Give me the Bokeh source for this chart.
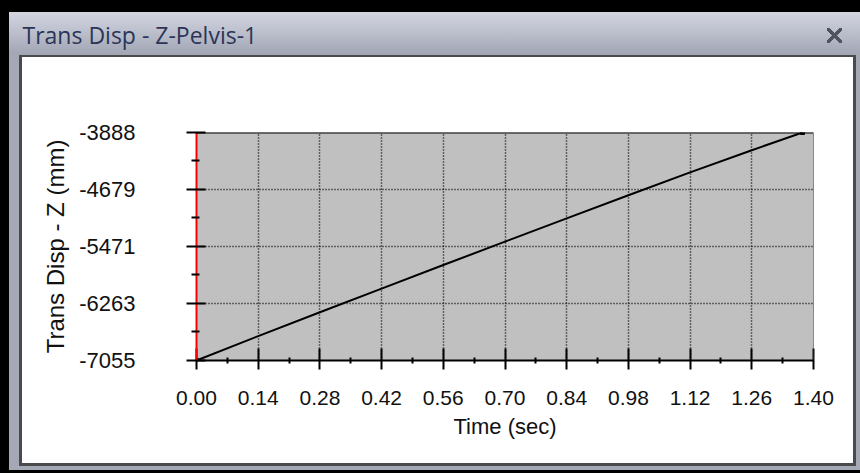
from bokeh.plotting import figure
from bokeh.models import FixedTicker, Span, Range1d, NumeralTickFormatter, Title
from bokeh.embed import file_html
from bokeh.resources import INLINE

# ---------------- data ----------------
time_s = [0.00, 0.14, 0.28, 0.42, 0.56, 0.70, 0.84, 0.98, 1.12, 1.26, 1.375]
disp_mm = [-7055, -6716, -6385, -6057, -5729, -5404, -5080, -4759, -4442, -4134, -3888]

x_ticks = [0.00, 0.14, 0.28, 0.42, 0.56, 0.70, 0.84, 0.98, 1.12, 1.26, 1.40]
y_ticks = [-7055, -6263, -5471, -4679, -3888]

window_title = "Trans Disp - Z-Pelvis-1"
x_label = "Time (sec)"
y_label = "Trans Disp - Z (mm)"

# ---------------- sizes / styles ----------------
W, H = 860, 473
FL, FR, FT, FB = 196, 813, 132, 360   # plot frame edges (px)

BLACK = "#000000"
GRAY = "#a5a9b6"
DARK = "#4a4a4a"
XCOL = "#50545f"

# window chrome painted as the figure's CSS background (border fill left transparent)
chrome = ", ".join([
    # close "x" icon
    "linear-gradient(45deg, transparent 41%%, %s 41%%, %s 59%%, transparent 59%%) 827px 28px / 15px 15px no-repeat" % (XCOL, XCOL),
    "linear-gradient(-45deg, transparent 41%%, %s 41%%, %s 59%%, transparent 59%%) 827px 28px / 15px 15px no-repeat" % (XCOL, XCOL),
    # white panel
    "linear-gradient(#ffffff,#ffffff) 22px 57px / 831px 406px no-repeat",
    # dark rim round the panel
    "linear-gradient(%s,%s) 19px 55px / 837px 411px no-repeat" % (DARK, DARK),
    # title bar
    "linear-gradient(to bottom, #d3d6e1, #a1a5b4) 9px 12px / 851px 43px no-repeat",
    # window frame
    "linear-gradient(%s,%s) 9px 12px / 851px 458px no-repeat" % (GRAY, GRAY),
    BLACK,
])

p = figure(width=W, height=H, title=None,
           x_range=Range1d(x_ticks[0], x_ticks[-1]),
           y_range=Range1d(y_ticks[0], y_ticks[-1]),
           output_backend="svg", toolbar_location=None,
           min_border_left=FL, min_border_right=W - FR,
           min_border_top=FT, min_border_bottom=H - FB)
p.background_fill_color = "#c0c0c0"
p.border_fill_color = None
p.outline_line_color = None
p.styles = {"background": chrome}

# window title text (spacer title next to the frame, window title outermost)
p.add_layout(Title(text=" ", text_font_size="10px", standoff=67), "above")
p.add_layout(Title(text=window_title, align="left", offset=22 - FL, standoff=0,
                   vertical_align="top", text_font="Open Sans", text_font_size="23px",
                   text_font_style="normal", text_color="#2b3557"), "above")

# grid
p.xgrid.ticker = FixedTicker(ticks=x_ticks)
p.ygrid.ticker = FixedTicker(ticks=y_ticks)
p.grid.grid_line_color = "black"
p.grid.grid_line_dash = "1 2"
p.grid.grid_line_width = 1.5

# axes
x_minor = [(a + b) / 2 for a, b in zip(x_ticks[:-1], x_ticks[1:])]
y_minor = [(a + b) / 2 for a, b in zip(y_ticks[:-1], y_ticks[1:])]
p.xaxis.ticker = FixedTicker(ticks=x_ticks, minor_ticks=x_minor)
p.yaxis.ticker = FixedTicker(ticks=y_ticks, minor_ticks=y_minor)
p.xaxis.formatter = NumeralTickFormatter(format="0.00")
p.yaxis.formatter = NumeralTickFormatter(format="0")

for ax in (p.xaxis[0], p.yaxis[0]):
    ax.major_label_text_font = "Liberation Sans"
    ax.major_label_text_color = "#111111"
    ax.axis_label_text_font = "Liberation Sans"
    ax.axis_label_text_font_style = "normal"
    ax.axis_label_text_color = "#111111"
    ax.major_tick_line_color = "black"
    ax.minor_tick_line_color = "black"
    ax.major_tick_line_width = 2
    ax.minor_tick_line_width = 2

p.xaxis.axis_label = x_label
p.xaxis.major_label_text_font_size = "21px"
p.xaxis.axis_label_text_font_size = "22px"
p.xaxis.axis_line_color = "black"
p.xaxis.axis_line_width = 2
p.xaxis.major_tick_in = 12
p.xaxis.major_tick_out = 9
p.xaxis.minor_tick_in = 3
p.xaxis.minor_tick_out = 3
p.xaxis.major_label_standoff = 21
p.xaxis.axis_label_standoff = 6

p.yaxis.axis_label = y_label
p.yaxis.major_label_text_font_size = "22px"
p.yaxis.axis_label_text_font_size = "24px"
p.yaxis.axis_line_color = "#ff0000"
p.yaxis.axis_line_width = 2
p.yaxis.major_tick_in = 9
p.yaxis.major_tick_out = 10
p.yaxis.minor_tick_in = 3
p.yaxis.minor_tick_out = 5
p.yaxis.major_label_standoff = 51
p.yaxis.axis_label_standoff = 7

# frame top / right edges
p.add_layout(Span(location=y_ticks[-1], dimension="width", line_color="black", line_width=2))
p.add_layout(Span(location=x_ticks[-1], dimension="height", line_color="#333333", line_width=1))

# data
p.line(time_s, disp_mm, line_color="black", line_width=2)
p.scatter([time_s[0], time_s[-1]], [disp_mm[0], disp_mm[-1]], marker="square",
          size=4, color="black")

open("out.html", "w").write(file_html(p, INLINE))
